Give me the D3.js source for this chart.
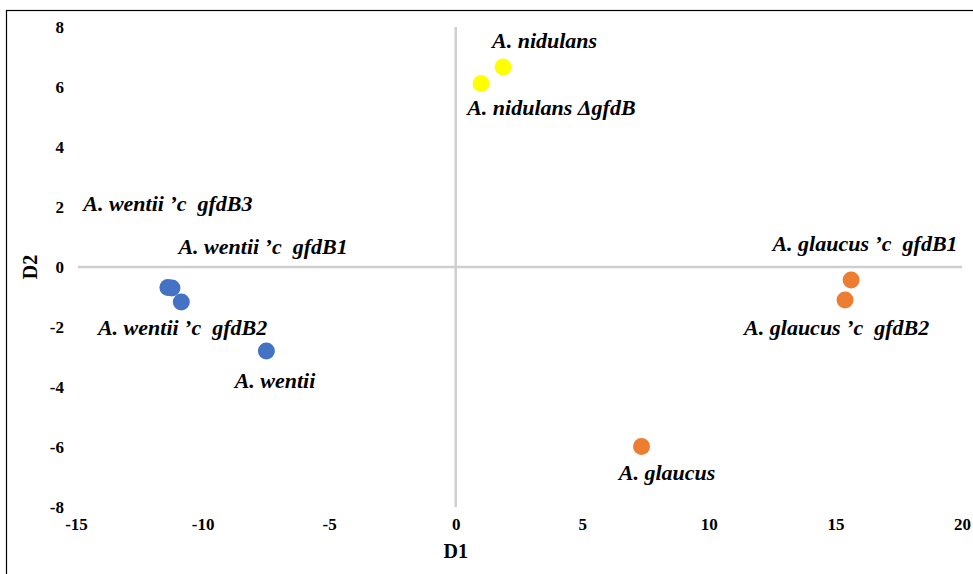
<!DOCTYPE html>
<html>
<head>
<meta charset="utf-8">
<script src="https://cdn.jsdelivr.net/npm/d3@7"></script>
<style>
  html, body { margin: 0; padding: 0; background: #fff; }
  svg text { font-family: "Liberation Serif", "Times New Roman", serif; }
  .pt-label { white-space: pre; }
</style>
</head>
<body>
<svg id="chart" width="973" height="574"></svg>
<script>
// Discriminant scores per strain (D1, D2)
const strains = [
  "A. nidulans", "A. nidulans ΔgfdB",
  "A. wentii", "A. wentii ’c  gfdB1", "A. wentii ’c  gfdB2", "A. wentii ’c  gfdB3",
  "A. glaucus", "A. glaucus ’c  gfdB1", "A. glaucus ’c  gfdB2"
];
const groups = ["nidulans", "nidulans", "wentii", "wentii", "wentii", "wentii", "glaucus", "glaucus", "glaucus"];
const d1 = [1.87, 1.00, -7.48, -11.21, -10.84, -11.37, 7.34, 15.62, 15.38];
const d2 = [6.67, 6.12, -2.80, -0.70, -1.17, -0.68, -5.98, -0.43, -1.10];

// Label anchors, in D1/D2 units
const labelD1 = [3.51, 3.78, -7.14, -7.61, -10.79, -11.37, 8.35, 16.17, 15.05];
const labelD2 = [7.30, 5.07, -4.03, 0.43, -2.27, 1.87, -7.10, 0.53, -2.27];

const xTicks = [-15, -10, -5, 0, 5, 10, 15, 20];
const yTicks = [-8, -6, -4, -2, 0, 2, 4, 6, 8];
const groupNames = ["nidulans", "wentii", "glaucus"];
const groupColors = ["#FFFF00", "#4472C4", "#ED7D31"];

const svg = d3.select("#chart");
const x = d3.scaleLinear().domain([-15, 20]).range([76, 962]);
const y = d3.scaleLinear().domain([-8, 8]).range([507, 27]);
const color = d3.scaleOrdinal().domain(groupNames).range(groupColors);

// outer frame
svg.append("rect")
  .attr("x", 6.5).attr("y", 10.5)
  .attr("width", 1000).attr("height", 700)
  .attr("fill", "none").attr("stroke", "#000").attr("stroke-width", 1.2);

// zero lines
svg.append("line")
  .attr("x1", x(-15) + 2).attr("x2", x(20))
  .attr("y1", y(0)).attr("y2", y(0))
  .attr("stroke", "#CFCFCF").attr("stroke-width", 2.5);
svg.append("line")
  .attr("x1", x(0)).attr("x2", x(0))
  .attr("y1", y(8)).attr("y2", y(-8))
  .attr("stroke", "#CFCFCF").attr("stroke-width", 2.5);

// tick labels (plain hyphen for negatives)
const fmt = d => String(d);
const xAxis = d3.axisBottom(x).tickValues(xTicks).tickSize(0).tickPadding(0).tickFormat(fmt);
const gx = svg.append("g").attr("transform", "translate(0,518)").call(xAxis);
gx.select(".domain").remove();
gx.attr("font-size", null).attr("font-family", null);
gx.selectAll("text")
  .style("font-size", "17px").style("font-weight", "bold").attr("fill", "#000");

const yAxis = d3.axisLeft(y).tickValues(yTicks).tickSize(0).tickPadding(0).tickFormat(fmt);
const gy = svg.append("g").attr("transform", "translate(64,0)").call(yAxis);
gy.select(".domain").remove();
gy.attr("font-size", null).attr("font-family", null);
gy.selectAll("text")
  .style("font-size", "17px").style("font-weight", "bold").attr("fill", "#000");

// axis titles
svg.append("text")
  .attr("x", x(0)).attr("y", 558)
  .attr("text-anchor", "middle")
  .style("font-size", "20px").style("font-weight", "bold")
  .text("D1");
svg.append("text")
  .attr("transform", `translate(37,${y(0)}) rotate(-90)`)
  .attr("text-anchor", "middle")
  .style("font-size", "20px").style("font-weight", "bold")
  .text("D2");

// points
const idx = d3.range(strains.length);
svg.append("g").selectAll("circle")
  .data(idx)
  .join("circle")
  .attr("cx", i => x(d1[i]))
  .attr("cy", i => y(d2[i]))
  .attr("r", 8.5)
  .attr("fill", i => color(groups[i]));

// point labels
svg.append("g").selectAll("text")
  .data(idx)
  .join("text")
  .attr("class", "pt-label")
  .attr("x", i => x(labelD1[i]))
  .attr("y", i => y(labelD2[i]))
  .attr("text-anchor", "middle")
  .style("font-size", "22px")
  .style("font-weight", "bold")
  .style("font-style", "italic")
  .attr("fill", "#000")
  .text(i => strains[i]);
</script>
</body>
</html>
